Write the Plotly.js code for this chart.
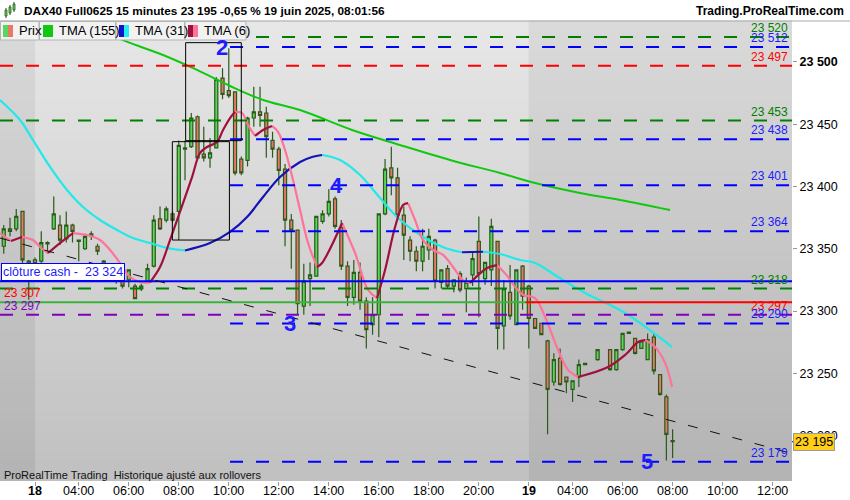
<!DOCTYPE html>
<html>
<head>
<meta charset="utf-8">
<script src="https://cdn.plot.ly/plotly-3.0.1.min.js"></script>
<style>html,body{margin:0;padding:0;background:#fff;}#chart{width:850px;height:500px;}</style>
</head>
<body>
<div id="chart"></div>
<script>
// ---------------- DATA ----------------
// bar index: 0 = first 15-min bar of 18 June, 79 = first bar of 19 June
const barIndex = [
  -5,-4,-3,-2,-1,0,1,2,3,4,
  5,6,7,8,9,10,11,12,13,14,
  15,16,17,18,19,20,21,22,23,24,
  25,26,27,28,29,30,31,32,33,34,
  35,36,37,38,39,40,41,42,43,44,
  45,46,47,48,49,50,51,52,53,54,
  55,56,57,58,59,60,61,62,63,64,
  65,66,67,68,69,70,71,72,73,74,
  75,76,77,78,79,80,81,82,83,84,
  85,86,87,88,90,92,93,94,95,96,
  97,98,99,100,101,102];
const openP = [
  23352,23366,23366,23380,23337,23341,23340,23354,23366,23369,
  23358,23369,23356,23350,23362,23352,23338,23336,23332,23333,
  23325,23320,23318,23324,23336,23374,23373,23378,23380,23430,
  23432,23456,23426,23423,23431,23487,23477,23476,23422,23421,
  23455,23460,23459,23437,23430,23414,23373,23365,23304,23326,
  23328,23372,23378,23390,23367,23336,23311,23331,23308,23289,
  23297,23378,23415,23407,23377,23357,23348,23340,23349,23357,
  23323,23334,23320,23330,23318,23329,23356,23326,23333,23356,
  23288,23315,23289,23336,23320,23294,23290,23276,23243,23262,
  23247,23237,23247,23257,23261,23269,23253,23269,23282,23278,
  23270,23261,23279,23249,23231,23196];
const highP = [
  23369,23375,23382,23380,23341,23343,23364,23356,23392,23377,
  23380,23370,23357,23362,23364,23354,23341,23338,23335,23334,
  23333,23322,23322,23338,23377,23384,23384,23380,23437,23437,
  23459,23457,23448,23439,23488,23495,23511,23476,23424,23456,
  23480,23480,23464,23444,23432,23418,23378,23365,23338,23339,
  23376,23381,23398,23392,23373,23340,23341,23339,23311,23311,
  23378,23422,23432,23415,23384,23360,23352,23366,23366,23358,
  23333,23337,23325,23332,23327,23348,23376,23339,23374,23356,
  23325,23337,23333,23337,23321,23294,23290,23277,23266,23270,
  23247,23244,23261,23258,23269,23269,23269,23282,23283,23278,
  23276,23282,23282,23249,23233,23205];
const lowP = [
  23346,23360,23364,23337,23309,23336,23338,23346,23365,23353,
  23355,23355,23340,23349,23357,23345,23335,23328,23322,23318,
  23319,23310,23316,23324,23335,23365,23371,23371,23357,23405,
  23431,23423,23420,23415,23431,23470,23471,23409,23409,23416,
  23448,23448,23423,23423,23401,23352,23334,23297,23297,23304,
  23328,23370,23376,23366,23333,23304,23305,23301,23270,23281,
  23279,23377,23393,23374,23341,23340,23332,23332,23341,23318,
  23318,23318,23315,23315,23299,23320,23295,23321,23320,23269,
  23269,23293,23289,23301,23270,23286,23281,23201,23240,23240,
  23234,23227,23239,23257,23260,23252,23252,23268,23282,23265,
  23270,23261,23249,23232,23180,23182];
const closeP = [
  23366,23364,23376,23341,23340,23338,23355,23355,23378,23357,
  23369,23364,23357,23360,23360,23348,23340,23332,23326,23320,
  23333,23310,23320,23334,23373,23366,23382,23373,23433,23431,
  23455,23423,23423,23427,23486,23474,23473,23411,23411,23455,
  23460,23457,23440,23430,23413,23373,23365,23306,23324,23329,
  23376,23378,23388,23368,23336,23311,23331,23308,23285,23297,
  23378,23414,23407,23377,23361,23348,23340,23352,23360,23324,
  23333,23320,23325,23317,23323,23342,23330,23339,23368,23286,
  23318,23296,23333,23312,23294,23286,23281,23237,23261,23241,
  23243,23244,23257,23258,23269,23253,23269,23282,23283,23266,
  23276,23277,23252,23233,23201,23195];

// moving averages (bar index, price)
const tma155X = [12.96,15.2,20.48,25.92,31.2,36.48,42.4,50.72,58.4,66.4,74.4,80,87.2,93.6,101.6];
const tma155Y = [23519.7,23515.3,23505.6,23493.6,23480.7,23469.5,23461.4,23445.4,23433.3,23421.3,23410.8,23402.8,23394.8,23389.2,23381.1];

const tma31X = [-5.6,-2.4,-0.32,2.4,5.12,7.68,10.4,13.12,15.68,18.4,21.12,24,28,31.2,33.92,36.48,39.2,42.4,44.32,45.92,48.8,52,55.2,58.08,62.08,65.6,68.32,71.68,74.4,77.6,80,83.68,88,94.4,101.92];
const tma31Y = [23469.5,23453.4,23437.3,23415.7,23397.2,23383.5,23373.1,23365.1,23358.6,23354.6,23350.6,23348.6,23354.6,23363.5,23375.5,23391.6,23407.6,23419.7,23423.7,23425.3,23421.3,23409.2,23390.8,23374.7,23359.4,23350.6,23347.2,23347.6,23345.8,23341.0,23338.6,23327.3,23314.5,23298.4,23271.1];

const tma6X = [-5.6,-3.84,-2.08,-0.32,0.8,2.08,4.0,6.08,8.32,10.4,12.0,13.6,15.2,16.8,18.4,20.0,21.6,23.68,25.12,26.4,27.52,29.12,30.08,31.2,32.0,33.12,34.08,35.2,36.48,37.92,38.88,40.0,41.28,42.4,43.68,45.12,45.92,49.12,51.2,53.28,54.72,56.0,57.6,58.88,59.68,60.8,62.08,63.68,65.28,66.88,68.48,69.6,72.32,73.92,75.68,76.8,78.08,80.0,81.6,83.68,85.28,86.88,91.68,94.4,96.48,97.6,99.2,100.8,101.92];
const tma6Y = [23362.6,23356.2,23359.4,23357.0,23351.4,23346.6,23354.6,23362.6,23361.0,23357.0,23349.0,23338.6,23327.3,23323.3,23323.0,23335.3,23357.0,23386.7,23407.6,23426.9,23431.7,23435.7,23445.4,23455.0,23459.8,23459.0,23449.4,23440.6,23445.4,23448.6,23443.8,23429.3,23405.2,23381.1,23354.6,23335.3,23338.6,23370.7,23346.6,23316.9,23310.4,23332.9,23367.5,23385.1,23386.7,23373.1,23357.0,23349.0,23345.0,23335.3,23324.9,23322.5,23334.5,23336.9,23327.3,23319.3,23312.9,23310.4,23295.2,23268.7,23252.6,23247.0,23255.0,23264.7,23275.1,23276.7,23271.1,23258.2,23238.9];

// horizontal levels
const levelValues = [23520,23512,23497,23453,23438,23401,23364,23318,23297,23290,23179];
const levelStart  = [31.2,31.2,-5.6,-5.6,31.2,31.2,31.2,-5.6,-5.6,31.2,31.2];
const levelLineColors  = ['#008000','#0000ff','#ff0000','#008000','#0000ff','#0000ff','#0000ff','#008000','#8000c0','#0000ff','#0000ff'];
const levelLabelColors = ['#008000','#1c1cff','#ff0000','#008000','#1c1cff','#1c1cff','#1c1cff','#008000','#ff0000','#1c1cff','#1c1cff'];
const cashClose = 23324;
const solidLevel = 23307;
const lastPrice = 23195;

// trend line end points
const trendX = [-5.6,121.1];
const trendY = [23358.6,23185.5];

// boxes [x0,x1,y0,y1]
const boxes = [[24.1,33.0,23436.8,23515.5],[21.97,31.1,23357.0,23436.0]];

// wave numbers
const waveText = ['2','3','4','5'];
const waveX = [29.9,40.8,48.2,97.9];
const waveY = [23512,23290,23401,23179];

// axes ticks
const xTickVals = [0,7,15,23,31,39,47,55,63,71,79,86,94,102,110,118];
const xTickText = ['<b>18</b>','04:00','06:00','08:00','10:00','12:00','14:00','16:00','18:00','20:00','<b>19</b>','04:00','06:00','08:00','10:00','12:00'];
const yTickVals = [23200,23250,23300,23350,23400,23450,23500];

// ---------------- RENDER ----------------
const W=850,H=500,ML=0,MR=58,MT=21,MB=19;
const PW=W-ML-MR, PH=H-MT-MB;
const px = x => (x-ML)/PW;
const py = y => 1-(y-MT)/PH;
const XR=[-5.6,121.1], YR=[23163.5,23532.9];
const fmt = v => String(v).replace(/\B(?=(\d{3})+(?!\d))/g,' ');
const FONT = 'Liberation Sans, Arial, sans-serif';

function splitBySlope(xs, ys){
  const up={x:[],y:[]}, dn={x:[],y:[]};
  let prev=null;
  for(let k=0;k<xs.length-1;k++){
    const rising = ys[k+1]>ys[k];
    const t = rising?up:dn;
    if(prev!==rising){ t.x.push(null); t.y.push(null); t.x.push(xs[k]); t.y.push(ys[k]); }
    t.x.push(xs[k+1]); t.y.push(ys[k+1]);
    prev=rising;
  }
  return {up,dn};
}

const traces=[];
traces.push({type:'candlestick', x:barIndex, open:openP, high:highP, low:lowP, close:closeP,
  increasing:{line:{color:'#2b5a1a',width:1.2},fillcolor:'#5ad65a'},
  decreasing:{line:{color:'#2b5a1a',width:1.2},fillcolor:'#e8786a'},
  whiskerwidth:0, hoverinfo:'skip', showlegend:false});
traces.push({type:'scatter',mode:'lines',x:tma155X,y:tma155Y,line:{color:'#11c811',width:2,shape:'spline'},hoverinfo:'skip'});
const t31=splitBySlope(tma31X,tma31Y);
traces.push({type:'scatter',mode:'lines',x:t31.dn.x,y:t31.dn.y,line:{color:'#22e8e8',width:2.2,shape:'spline'},hoverinfo:'skip'});
traces.push({type:'scatter',mode:'lines',x:t31.up.x,y:t31.up.y,line:{color:'#1414b4',width:2.2,shape:'spline'},hoverinfo:'skip'});
const t6=splitBySlope(tma6X,tma6Y);
traces.push({type:'scatter',mode:'lines',x:t6.dn.x,y:t6.dn.y,line:{color:'#ff7399',width:2.2,shape:'spline'},hoverinfo:'skip'});
traces.push({type:'scatter',mode:'lines',x:t6.up.x,y:t6.up.y,line:{color:'#a0103c',width:2.2,shape:'spline'},hoverinfo:'skip'});

const shapes=[];
// background gradient bands (style only)
const NB=46;
for(let k=0;k<NB;k++){
  const y0=k/NB, y1=(k+1)/NB;
  const ypix = MT + PH*(1-(y0+y1)/2);
  const light = Math.round(226-(ypix-80)*32/380);
  const dark = light-13;
  const cl=`rgb(${light},${light},${light})`, cd=`rgb(${dark},${dark},${dark})`;
  [[XR[0],0,cd],[0,79,cl],[79,XR[1],cd]].forEach(r=>{
    shapes.push({type:'rect',xref:'x',yref:'paper',x0:r[0],x1:r[1],y0:y0,y1:y1+0.001,fillcolor:r[2],line:{width:0},layer:'below'});
  });
}
// levels
levelValues.forEach((v,k)=>{
  shapes.push({type:'line',xref:'x',yref:'y',x0:levelStart[k],x1:XR[1],y0:v,y1:v,line:{color:levelLineColors[k],width:2,dash:'13px,13px'}});
});
shapes.push({type:'line',xref:'x',yref:'y',x0:XR[0],x1:XR[1],y0:cashClose,y1:cashClose,line:{color:'#0000ff',width:2}});
shapes.push({type:'line',xref:'x',yref:'y',x0:XR[0],x1:80,y0:solidLevel,y1:solidLevel,line:{color:'#3cb43c',width:2}});
shapes.push({type:'line',xref:'x',yref:'y',x0:78.5,x1:XR[1],y0:solidLevel,y1:solidLevel,line:{color:'#ff0000',width:2}});
shapes.push({type:'line',xref:'x',yref:'y',x0:trendX[0],x1:trendX[1],y0:trendY[0],y1:trendY[1],line:{color:'#111',width:1,dash:'10px,13px'}});
boxes.forEach(b=>shapes.push({type:'rect',xref:'x',yref:'y',x0:b[0],x1:b[1],y0:b[2],y1:b[3],line:{color:'#000',width:1},fillcolor:'rgba(0,0,0,0)'}));
// title bar border
shapes.push({type:'line',xref:'paper',yref:'paper',x0:px(0),x1:px(850),y0:py(21),y1:py(21),line:{color:'#a8a8a8',width:1}});
// legend row cells
const cells=[[0,39],[39,115.5],[115.5,184.5],[184.5,246]];
cells.forEach(c=>shapes.push({type:'rect',xref:'paper',yref:'paper',x0:px(c[0]+0.5),x1:px(c[1]),y0:py(40),y1:py(21.5),fillcolor:'#f2f2f2',line:{color:'#b4b4b4',width:1}}));
const icon=(x0,x1,col)=>shapes.push({type:'rect',xref:'paper',yref:'paper',x0:px(x0),x1:px(x1),y0:py(37),y1:py(25),fillcolor:col,line:{width:0}});
icon(3,8,'#5ad65a');icon(8,13,'#e8786a');
icon(43,53,'#11c811');
icon(119,124,'#1414c8');icon(124,129,'#22f0f0');
icon(188,193,'#a0103c');icon(193,198,'#ff7399');
// title icon (small candles)
[[5,7,10,16,8,18],[9,11,7,13,5,15],[13,15,4,10,2,12]].forEach(c=>{
  shapes.push({type:'line',xref:'paper',yref:'paper',x0:px((c[0]+c[1])/2),x1:px((c[0]+c[1])/2),y0:py(c[5]),y1:py(c[4]),line:{color:'#2b5a1a',width:1}});
  shapes.push({type:'rect',xref:'paper',yref:'paper',x0:px(c[0]),x1:px(c[1]),y0:py(c[3]),y1:py(c[2]),fillcolor:'#5ad65a',line:{color:'#2b5a1a',width:0.8}});
});
// last price tick
shapes.push({type:'line',xref:'paper',yref:'y',x0:px(792),x1:px(797),y0:lastPrice,y1:lastPrice,line:{color:'#000',width:1}});

const ann=[];
levelValues.forEach((v,k)=>{
  ann.push({xref:'paper',yref:'y',x:px(790),y:v,xanchor:'right',yanchor:'middle',yshift:9,text:fmt(v),showarrow:false,font:{family:FONT,size:12,color:levelLabelColors[k]}});
});
ann.push({xref:'paper',yref:'paper',x:px(1),y:py(272),xanchor:'left',yanchor:'middle',text:'clôture cash -  '+fmt(cashClose),showarrow:false,bgcolor:'#ffffff',bordercolor:'#0000ff',borderwidth:1,borderpad:1,font:{family:FONT,size:12.5,color:'#1c1cff'}});
ann.push({xref:'paper',yref:'y',x:px(2),y:solidLevel,xanchor:'left',yanchor:'middle',yshift:9,text:fmt(solidLevel),showarrow:false,font:{family:FONT,size:12,color:'#ff0000'}});
ann.push({xref:'paper',yref:'y',x:px(2),y:levelValues[8],xanchor:'left',yanchor:'middle',yshift:9,text:fmt(levelValues[8]),showarrow:false,font:{family:FONT,size:12,color:'#8000c0'}});
waveText.forEach((t,k)=>{
  ann.push({xref:'x',yref:'y',x:waveX[k],y:waveY[k],xanchor:'center',yanchor:'middle',text:'<b>'+t+'</b>',showarrow:false,font:{family:FONT,size:22,color:'#1c1cff'}});
});
ann.push({xref:'paper',yref:'y',x:px(793),y:lastPrice,xanchor:'left',yanchor:'middle',text:fmt(lastPrice),showarrow:false,bgcolor:'#ffcf1a',bordercolor:'#9a9a9a',borderwidth:1,borderpad:1,font:{family:FONT,size:12.5,color:'#000'}});
ann.push({xref:'paper',yref:'paper',x:px(2),y:py(475),xanchor:'left',yanchor:'middle',text:'ProRealTime Trading  Historique ajusté aux rollovers',showarrow:false,font:{family:FONT,size:11,color:'#111'}});
ann.push({xref:'paper',yref:'paper',x:px(22),y:py(11),xanchor:'left',yanchor:'middle',text:'<b>DAX40 Full0625 15 minutes 23 195 -0,65 % 19 juin 2025, 08:01:56</b>',showarrow:false,font:{family:FONT,size:11.8,color:'#000'}});
ann.push({xref:'paper',yref:'paper',x:px(846),y:py(11),xanchor:'right',yanchor:'middle',text:'<b>Trading.ProRealTime.com</b>',showarrow:false,font:{family:FONT,size:12,color:'#000'}});
[['Prix',17],['TMA (155)',57],['TMA (31)',133],['TMA (6)',202]].forEach(l=>{
  ann.push({xref:'paper',yref:'paper',x:px(l[1]),y:py(31),xanchor:'left',yanchor:'middle',text:l[0],showarrow:false,font:{family:FONT,size:13,color:'#000'}});
});
// x-axis tick labels as annotations (placed like the reference)
xTickVals.forEach((v,k)=>{
  ann.push({xref:'x',yref:'paper',x:v,y:py(491),xanchor:'center',yanchor:'middle',text:xTickText[k],showarrow:false,font:{family:FONT,size:12.5,color:'#000'}});
});

const yTickText = yTickVals.map(v=> v===23500?'<b>'+fmt(v)+'</b>':fmt(v));
const layout={
  width:W,height:H,margin:{l:ML,r:MR,t:MT,b:MB,pad:0},
  paper_bgcolor:'#ffffff',plot_bgcolor:'#d0d0d0',showlegend:false,
  font:{family:FONT,size:12,color:'#000'},
  xaxis:{range:XR,tickmode:'array',tickvals:xTickVals,ticktext:xTickText,showticklabels:false,ticks:'outside',ticklen:4,tickcolor:'#999',
    showgrid:false,zeroline:false,showline:false,rangeslider:{visible:false},fixedrange:true},
  yaxis:{side:'right',range:YR,tickmode:'array',tickvals:yTickVals,ticktext:yTickText,ticks:'outside',ticklen:4,tickcolor:'#999',
    showgrid:false,zeroline:false,showline:false,fixedrange:true,tickfont:{family:FONT,size:12.5,color:'#000'}},
  shapes:shapes,annotations:ann
};
Plotly.newPlot('chart',traces,layout,{displayModeBar:false,staticPlot:true});
</script>
</body>
</html>
